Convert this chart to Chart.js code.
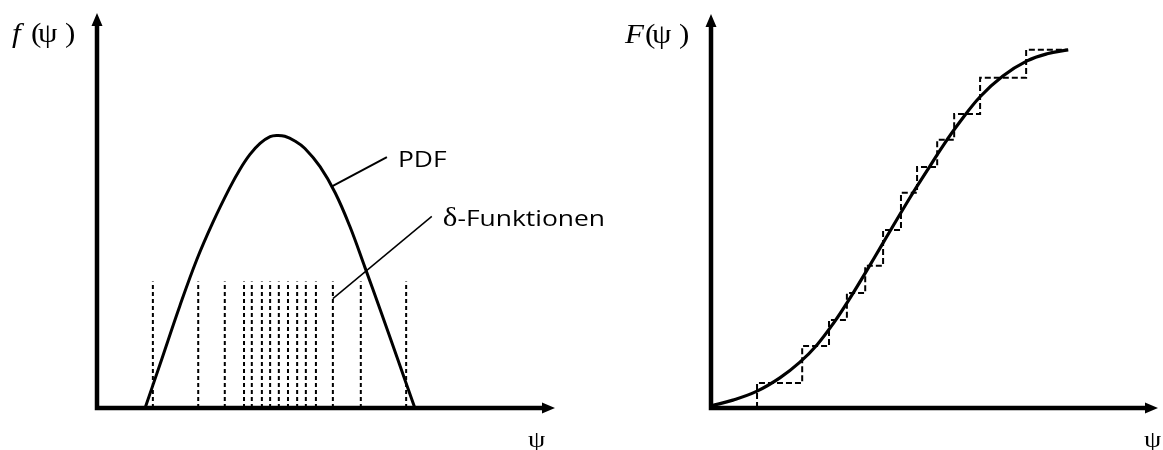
<!DOCTYPE html>
<html>
<head>
<meta charset="utf-8">
<script src="https://cdn.jsdelivr.net/npm/chart.js@4.4.1/dist/chart.umd.min.js"></script>
<style>
  html, body { margin: 0; background: #fff; }
  .row { position: relative; width: 1163px; height: 450px; overflow: hidden; }
  .row canvas { position: absolute; top: 0; display: block; }
  #pdfChart { left: 0; }
  #cdfChart { left: 581px; }
</style>
</head>
<body>
<div class="row">
  <canvas id="pdfChart" width="700" height="450"></canvas>
  <canvas id="cdfChart" width="582" height="450"></canvas>
</div>
<script>
// PDF curve f(psi)
const pdfPsi = [10.5, 13.8, 18.1, 21.8, 25.3, 29.0, 31.2, 33.4, 35.6, 37.8, 39.3, 41.0, 43.2, 45.4, 48.7, 52.0, 55.2, 58.5, 61.8, 65.7, 69.4];
const pdfValue = [0, 0.112, 0.259, 0.376, 0.47, 0.558, 0.604, 0.642, 0.67, 0.687, 0.69, 0.688, 0.676, 0.657, 0.611, 0.545, 0.46, 0.356, 0.25, 0.122, 0];

// delta functions (sample positions)
const deltaPsi = [12.2, 22.1, 27.9, 32.1, 33.8, 36.0, 37.8, 39.7, 41.7, 43.7, 45.6, 47.8, 51.5, 57.6, 67.5];
const deltaHeight = 0.32;

// CDF curve F(psi)
const cdfPsi = [0, 4.9, 10.3, 15.4, 19.9, 23.7, 27.3, 31.1, 34.9, 38.5, 44.5, 48.3, 51.9, 55.7, 60.2, 65.3, 70.7, 75.2, 79.9];
const cdfValue = [0.006, 0.022, 0.047, 0.084, 0.128, 0.176, 0.235, 0.307, 0.385, 0.461, 0.587, 0.662, 0.732, 0.799, 0.869, 0.927, 0.969, 0.989, 1.0];

// staircase of the sampled CDF (right end of each level)
const stepPsi = [10.3, 20.4, 26.4, 30.4, 34.5, 38.5, 42.5, 46.1, 50.6, 54.4, 60.2, 70.5, 79.9];
const stepValue = [0, 0.07, 0.173, 0.246, 0.321, 0.397, 0.497, 0.601, 0.673, 0.749, 0.821, 0.922, 1.0];

const toPoints = (xs, ys) => xs.map((x, i) => ({ x, y: ys[i] }));

const serif = '"Liberation Serif", "Times New Roman", serif';
const sans = '"Open Sans", "Noto Sans", sans-serif';

// text is set a little wider than the font's natural width
const drawText = (ctx, text, x, y, font, stretch) => {
  ctx.save();
  ctx.font = font;
  ctx.translate(x, y);
  ctx.scale(stretch, 1);
  ctx.fillText(text, 0, 0);
  const w = ctx.measureText(text).width * stretch;
  ctx.restore();
  return w;
};

// Axes with arrowheads, axis names and callout labels
const sketchAxes = {
  id: 'sketchAxes',
  afterDatasetsDraw(chart, args, opts) {
    const { ctx, chartArea: a, scales: { x, y } } = chart;
    ctx.save();
    ctx.fillStyle = '#000';
    ctx.strokeStyle = '#000';
    ctx.textBaseline = 'alphabetic';

    ctx.lineWidth = 4.5;
    ctx.lineJoin = 'miter';
    ctx.beginPath();
    ctx.moveTo(a.left, a.top + 10);
    ctx.lineTo(a.left, a.bottom);
    ctx.lineTo(a.right - 10, a.bottom);
    ctx.stroke();

    ctx.beginPath();
    ctx.moveTo(a.left, a.top);
    ctx.lineTo(a.left - 5.5, a.top + 13);
    ctx.lineTo(a.left + 5.5, a.top + 13);
    ctx.closePath();
    ctx.moveTo(a.right, a.bottom);
    ctx.lineTo(a.right - 13, a.bottom - 5.5);
    ctx.lineTo(a.right - 13, a.bottom + 5.5);
    ctx.closePath();
    ctx.fill();

    // y axis name, e.g. f(psi )
    const base = a.top + 29;
    drawText(ctx, opts.yName, a.left + opts.yNameDx, base, `italic 27px ${serif}`, 1.15);
    drawText(ctx, '(', a.left - 66, base, `27px ${serif}`, 1.15);
    drawText(ctx, 'ψ', a.left - 59, base, `27px ${serif}`, 1.15);
    drawText(ctx, ')', a.left - 32, base, `27px ${serif}`, 1.15);

    // x axis name
    drawText(ctx, 'ψ', a.right + opts.xNameDx, a.bottom + 39, `24px ${serif}`, 1.15);

    // callouts with leader lines
    (opts.callouts || []).forEach(c => {
      const x0 = x.getPixelForValue(c.from[0]);
      const y0 = y.getPixelForValue(c.from[1]);
      const x1 = x.getPixelForValue(c.to[0]);
      const y1 = y.getPixelForValue(c.to[1]);
      ctx.lineWidth = c.width;
      ctx.beginPath();
      ctx.moveTo(x0, y0);
      ctx.lineTo(x1, y1);
      ctx.stroke();
      let tx = x1 + 11;
      const ty = y1 + 10;
      if (c.symbol) {
        tx += drawText(ctx, c.symbol, tx, ty, `27px ${serif}`, 1.15);
      }
      drawText(ctx, c.text, tx, ty, `22px ${sans}`, 1.2);
    });
    ctx.restore();
  }
};

const baseOptions = (yMax, padding, axes) => ({
  responsive: false,
  animation: false,
  events: [],
  layout: { padding },
  plugins: {
    legend: { display: false },
    tooltip: { enabled: false },
    sketchAxes: axes,
  },
  scales: {
    x: { type: 'linear', min: 0, max: 100, display: false },
    y: { type: 'linear', min: 0, max: yMax, display: false },
  },
  elements: { point: { radius: 0 } },
});

// Left: density with delta functions
new Chart(document.getElementById('pdfChart'), {
  type: 'line',
  data: {
    datasets: [
      {
        label: 'δ-Funktionen',
        data: deltaPsi.flatMap(p => [{ x: p, y: 0 }, { x: p, y: deltaHeight }, { x: p, y: null }]),
        borderColor: '#000',
        borderWidth: 2,
        borderDash: [4, 3],
        spanGaps: false,
        tension: 0,
      },
      {
        label: 'PDF',
        data: toPoints(pdfPsi, pdfValue),
        borderColor: '#000',
        borderWidth: 3,
        tension: 0.4,
      },
    ],
  },
  options: baseOptions(1, { left: 97, right: 145, top: 13, bottom: 42 }, {
    yName: 'f',
    yNameDx: -85,
    xNameDx: -27,
    callouts: [
      { text: 'PDF', from: [51.3, 0.561], to: [63.3, 0.635], width: 2 },
      { symbol: 'δ', text: '-Funktionen', from: [51.5, 0.277], to: [73.1, 0.485], width: 1.5 },
    ],
  }),
  plugins: [sketchAxes],
});

// Right: cumulative distribution and its staircase
new Chart(document.getElementById('cdfChart'), {
  type: 'line',
  data: {
    datasets: [
      {
        label: 'Treppe',
        data: toPoints(stepPsi, stepValue),
        borderColor: '#000',
        borderWidth: 2,
        borderDash: [6, 3],
        stepped: 'after',
      },
      {
        label: 'CDF',
        data: toPoints(cdfPsi, cdfValue),
        borderColor: '#000',
        borderWidth: 3.2,
        tension: 0.4,
      },
    ],
  },
  options: baseOptions(1.1, { left: 130, right: 5, top: 14, bottom: 42 }, {
    yName: 'F',
    yNameDx: -86,
    xNameDx: -14,
  }),
  plugins: [sketchAxes],
});
</script>
</body>
</html>
